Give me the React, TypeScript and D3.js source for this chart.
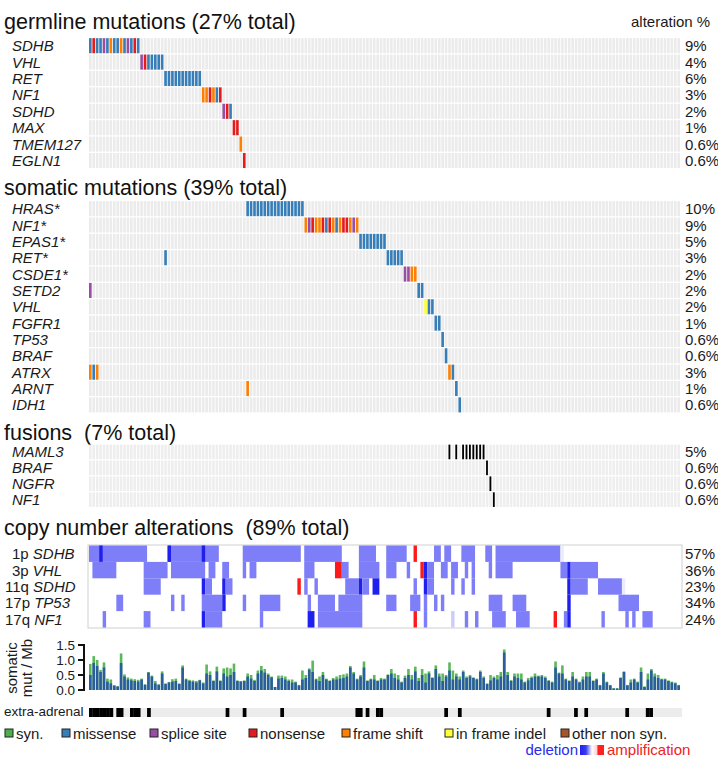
import React from "react";
import * as d3 from "d3";

const FONT = "'Liberation Sans', Arial, Helvetica, sans-serif";

// one letter per mutation type
const typeColors: Record<string, string> = {
  y: "#4daf4a", // syn.
  m: "#377eb8", // missense
  s: "#984ea3", // splice site
  n: "#e41a1c", // nonsense
  f: "#ff7f00", // frame shift
  i: "#ffff33", // in frame indel
  o: "#a65628", // other non syn.
};
const legendTypes = ["y", "m", "s", "n", "f", "i", "o"];
const legendLabels = ["syn.", "missense", "splice site", "nonsense", "frame shift", "in frame indel", "other non syn."];

// germline: [first sample, types of consecutive samples]
const germlineGenes = ["SDHB", "VHL", "RET", "NF1", "SDHD", "MAX", "TMEM127", "EGLN1"];
const germlinePct = ["9%", "4%", "6%", "3%", "2%", "1%", "0.6%", "0.6%"];
const germlineRuns: [number, string][][] = [
  [[0, "mnmmsmfmmfmsmnm"]],
  [[15, "snmmmmm"]],
  [[22, "mmmmmmmmmmm"]],
  [[33, "ffnfmn"]],
  [[39, "snm"]],
  [[42, "nn"]],
  [[44, "f"]],
  [[45, "n"]],
];

const somaticGenes = ["HRAS*", "NF1*", "EPAS1*", "RET*", "CSDE1*", "SETD2", "VHL", "FGFR1", "TP53", "BRAF", "ATRX", "ARNT", "IDH1"];
const somaticPct = ["10%", "9%", "5%", "3%", "2%", "2%", "2%", "1%", "0.6%", "0.6%", "3%", "1%", "0.6%"];
const somaticRuns: [number, string][][] = [
  [[46, "mmmmmmmmmmmmmmmmm"]],
  [[63, "fsnffnmnfmfnnfsf"]],
  [[79, "mmmmmmmm"]],
  [[22, "m"], [87, "mmmmm"]],
  [[92, "ssff"]],
  [[0, "s"], [96, "mm"]],
  [[98, "imm"]],
  [[101, "mm"]],
  [[103, "m"]],
  [[104, "m"]],
  [[0, "fmf"], [105, "fm"]],
  [[46, "f"], [107, "m"]],
  [[108, "m"]],
];

const fusionGenes = ["MAML3", "BRAF", "NGFR", "NF1"];
const fusionPct = ["5%", "0.6%", "0.6%", "0.6%"];
const fusionSamples = [[105, 107, 109, 110, 111, 112, 113, 114, 115], [116], [117], [118]];

// copy number: [first, last, level]  1 = deletion, 2 = deep deletion, -1 = amplification
const cnaArms = ["1p", "3p", "11q", "17p", "17q"];
const cnaGenes = ["SDHB", "VHL", "SDHD", "TP53", "NF1"];
const cnaPct = ["57%", "36%", "23%", "34%", "24%"];
const cna1p = [[0, 16, 1], [3, 3, 2], [23, 37, 1], [23, 23, 2], [33, 33, 2], [45, 61, 1], [63, 73, 1], [79, 83, 1], [87, 92, 1], [95, 95, -1], [101, 102, 1], [104, 105, 1], [109, 112, 1], [116, 117, 1], [119, 137, 1], [138, 138, 0.15]];
const cna3p = [[1, 7, 1], [16, 22, 1], [24, 33, 1], [35, 36, 1], [39, 40, 1], [45, 45, 1], [47, 48, 1], [63, 65, 1], [72, 73, -1], [74, 75, 1], [79, 84, 1], [87, 89, 1], [93, 93, 1], [97, 97, -1], [98, 98, 2], [99, 100, 1], [103, 104, 1], [106, 107, 1], [110, 110, 1], [112, 112, 1], [117, 117, 1], [119, 123, 1], [138, 139, 1], [140, 140, 2], [141, 148, 1]];
const cna11q = [[16, 20, 1], [33, 33, 2], [34, 35, 1], [39, 39, 2], [40, 41, 1], [61, 61, -1], [63, 63, 1], [66, 66, 1], [75, 78, 1], [79, 79, 2], [80, 81, 1], [83, 84, 2], [95, 95, 1], [98, 98, 2], [99, 100, 1], [106, 106, 1], [109, 109, 1], [112, 112, 1], [140, 140, 2], [141, 145, 1], [149, 155, 1], [156, 156, 0.15]];
const cna17p = [[8, 9, 1], [24, 24, 1], [27, 27, 1], [33, 38, 1], [39, 39, 2], [45, 45, 1], [50, 55, 1], [64, 64, 1], [67, 71, 1], [73, 79, 1], [87, 89, 1], [94, 96, 1], [98, 98, 1], [101, 101, 1], [103, 103, 1], [117, 120, 1], [124, 127, 1], [140, 140, 2], [155, 160, 1]];
const cna17q = [[4, 4, 1], [16, 17, 1], [33, 33, 2], [34, 38, 1], [50, 50, 1], [64, 65, 2], [67, 79, 1], [95, 95, -1], [98, 98, 1], [106, 106, 0.4], [110, 110, 1], [113, 113, 1], [118, 121, 1], [125, 128, 1], [136, 136, -1], [139, 139, 1], [140, 140, 2], [150, 150, 1], [157, 157, 1], [159, 159, 1], [162, 164, 1]];
const cnaRows = [cna1p, cna3p, cna11q, cna17p, cna17q];

// somatic mutations / Mb per sample
const nonsynRate = [
  0.5, 0.9, 0.8, 0.6, 0.75, 0.28, 0.22, 0.15, 0.12, 0.9, 0.45, 0.35, 0.32, 0.3, 0.28, 0.35, 0.18, 0.58, 0.45, 0.22,
  0.18, 0.55, 0.2, 0.25, 0.28, 0.3, 0.2, 0.75, 0.35, 0.3, 0.28, 0.25, 0.32, 0.22, 0.55, 0.5, 0.3, 0.62, 0.3, 0.55,
  0.45, 0.5, 0.6, 0.3, 0.28, 0.3, 0.45, 0.38, 0.3, 0.55, 0.65, 0.58, 0.5, 0.42, 0.1, 0.38, 0.4, 0.35, 0.3, 0.25,
  0.25, 0.15, 0.35, 0.4, 0.68, 0.6, 0.35, 0.3, 0.5, 0.35, 0.3, 0.35, 0.35, 0.38, 0.4, 0.45, 0.75, 0.55, 0.35, 0.45,
  0.75, 0.3, 0.35, 0.35, 0.3, 0.35, 0.35, 0.5, 0.55, 0.4, 0.35, 0.25, 0.4, 0.5, 0.35, 0.62, 0.3, 0.5, 0.25, 0.55,
  0.4, 0.7, 0.45, 0.3, 0.45, 0.65, 0.35, 0.45, 0.35, 0.6, 0.4, 0.45, 0.4, 0.35, 0.6, 0.4, 0.2, 0.32, 0.4, 0.35,
  0.45, 1.25, 0.5, 0.3, 0.45, 0.4, 0.35, 0.25, 0.32, 0.4, 0.45, 0.45, 0.45, 0.4, 0.3, 0.25, 0.75, 0.55, 0.55, 0.35,
  0.3, 0.45, 0.35, 0.25, 0.35, 0.45, 0.45, 0.3, 0.35, 0.15, 0.55, 0.25, 0.15, 0.05, 0.05, 0.4, 0.6, 0.15, 0.25, 0.35,
  0.25, 0.6, 0.1, 0.35, 0.65, 0.45, 0.4, 0.35, 0.35, 0.3, 0.25, 0.22, 0.15,
];
const totalRate = [
  0.87, 1.13, 1.0, 0.67, 0.92, 0.38, 0.35, 0.15, 0.12, 1.22, 0.52, 0.42, 0.38, 0.36, 0.34, 0.38, 0.18, 0.6, 0.48, 0.3,
  0.18, 0.62, 0.22, 0.27, 0.36, 0.38, 0.22, 0.82, 0.38, 0.34, 0.32, 0.3, 0.34, 0.25, 0.85, 0.62, 0.32, 0.78, 0.32, 0.72,
  0.75, 0.72, 0.88, 0.32, 0.3, 0.32, 0.55, 0.5, 0.34, 0.65, 0.8, 0.7, 0.55, 0.45, 0.1, 0.48, 0.48, 0.45, 0.35, 0.35,
  0.28, 0.17, 0.65, 0.5, 0.72, 0.98, 0.38, 0.45, 0.6, 0.38, 0.32, 0.4, 0.45, 0.5, 0.52, 0.55, 0.8, 0.6, 0.38, 0.5,
  0.95, 0.32, 0.38, 0.5, 0.32, 0.4, 0.38, 0.52, 0.7, 0.55, 0.5, 0.28, 0.48, 0.7, 0.5, 0.78, 0.4, 0.7, 0.55, 0.62,
  0.42, 0.82, 0.55, 0.55, 0.5, 0.92, 0.65, 0.55, 0.45, 0.65, 0.45, 0.5, 0.42, 0.38, 0.65, 0.45, 0.22, 0.5, 0.45, 0.5,
  0.6, 1.35, 0.6, 0.33, 0.55, 0.55, 0.55, 0.28, 0.4, 0.45, 0.55, 0.48, 0.5, 0.45, 0.33, 0.28, 0.95, 0.58, 0.82, 0.38,
  0.32, 0.6, 0.38, 0.28, 0.45, 0.6, 0.6, 0.32, 0.38, 0.17, 0.6, 0.28, 0.17, 0.06, 0.06, 0.42, 0.62, 0.17, 0.35, 0.38,
  0.28, 0.75, 0.12, 0.55, 0.7, 0.55, 0.5, 0.38, 0.38, 0.32, 0.28, 0.25, 0.17,
];
const rateTicks = [0, 0.5, 1.0, 1.5];

const extraAdrenal = [0, 1, 2, 3, 4, 5, 6, 8, 9, 12, 13, 14, 17, 40, 45, 56, 78, 79, 81, 84, 85, 104, 108, 134, 142, 145, 157, 163, 164];

const nSamples = totalRate.length;
const sampleIdx = d3.range(nSamples);
const xCell = d3.scaleBand<number>().domain(sampleIdx).range([89, 680]).paddingInner(0.24);
const xFull = d3.scaleBand<number>().domain(sampleIdx).range([89, 680]).paddingInner(0);

function rowScale(genes: string[], top: number, pitch: number) {
  return d3.scaleBand<string>().domain(genes).range([top, top + genes.length * pitch]).paddingInner(0.08).paddingOuter(0.04);
}

function GeneLabels({ genes, pct, y }: { genes: string[]; pct: string[]; y: d3.ScaleBand<string> }) {
  return (
    <g fontFamily={FONT} fontSize={15} fill="#1a1a1a">
      {genes.map((g, i) => (
        <g key={g + i}>
          <text x={12} y={(y(g) as number) + y.bandwidth() / 2 + 5.5} fontStyle="italic">{g}</text>
          <text x={685} y={(y(g) as number) + y.bandwidth() / 2 + 5.5}>{pct[i]}</text>
        </g>
      ))}
    </g>
  );
}

function MutSection({ genes, pct, runs, top, pitch }: { genes: string[]; pct: string[]; runs: [number, string][][]; top: number; pitch: number }) {
  const y = rowScale(genes, top, pitch);
  return (
    <g>
      {genes.map((g) => (
        <g key={g}>
          {sampleIdx.map((s) => (
            <rect key={s} x={xCell(s)} y={y(g)} width={xCell.bandwidth()} height={y.bandwidth()} fill="#ebebeb" />
          ))}
        </g>
      ))}
      {runs.map((rowRuns, r) =>
        rowRuns.map(([start, types]) =>
          types.split("").map((t, k) => (
            <rect key={`${r}-${start}-${k}`} x={xCell(start + k)} y={y(genes[r])} width={xCell.bandwidth()} height={y.bandwidth()} fill={typeColors[t]} />
          ))
        )
      )}
      <GeneLabels genes={genes} pct={pct} y={y} />
    </g>
  );
}

function cnaColor(level: number) {
  if (level === 2) return "#2020ee";
  if (level === 1) return "#7e7ef8";
  if (level === -1) return "#ff1a1a";
  if (level < 0) return "#ffd8d8";
  return d3.interpolateRgb("#ffffff", "#7e7ef8")(level);
}

export default function App() {
  const yFus = rowScale(fusionGenes, 444, 15.9);
  const yCna = d3.scaleBand<string>().domain(cnaGenes).range([545.5, 627.5]);
  const yRate = d3.scaleLinear().domain([0, 1.5]).range([690, 645]);
  const pre = { whiteSpace: "pre" as const };

  return (
    <svg width={718} height={760} style={{ position: "absolute", left: 0, top: 0, background: "#fff" }}>
      <defs>
        <linearGradient id="cnaGrad" x1="0" x2="1" y1="0" y2="0">
          <stop offset="0" stopColor="#2020ee" />
          <stop offset="0.25" stopColor="#3a3af0" />
          <stop offset="0.5" stopColor="#ffffff" />
          <stop offset="0.7" stopColor="#ffd0d0" />
          <stop offset="0.75" stopColor="#ff2020" />
          <stop offset="1" stopColor="#ff2020" />
        </linearGradient>
      </defs>

      <g fontFamily={FONT} fontSize={21.5} fill="#111">
        <text x={4} y={29} xmlSpace="preserve" style={pre}>germline mutations (27% total)</text>
        <text x={4} y={195} xmlSpace="preserve" style={pre}>somatic mutations (39% total)</text>
        <text x={4} y={440} xmlSpace="preserve" style={pre}>{"fusions  (7% total)"}</text>
        <text x={4} y={535} xmlSpace="preserve" style={pre}>{"copy number alterations  (89% total)"}</text>
      </g>
      <text x={631} y={27} fontFamily={FONT} fontSize={15} fill="#1a1a1a">alteration %</text>

      <MutSection genes={germlineGenes} pct={germlinePct} runs={germlineRuns} top={37.5} pitch={16.4} />
      <MutSection genes={somaticGenes} pct={somaticPct} runs={somaticRuns} top={200.5} pitch={16.35} />

      {/* fusions */}
      <g>
        {fusionGenes.map((g) => (
          <g key={g}>
            {sampleIdx.map((s) => (
              <rect key={s} x={xCell(s)} y={yFus(g)} width={xCell.bandwidth()} height={yFus.bandwidth()} fill="#eeeeee" />
            ))}
          </g>
        ))}
        {fusionSamples.map((list, r) =>
          list.map((s) => (
            <rect key={`${r}-${s}`} x={(xFull(s) as number) + xFull.bandwidth() / 2 - 0.9} y={yFus(fusionGenes[r])} width={1.8} height={yFus.bandwidth()} fill="#000" />
          ))
        )}
        <GeneLabels genes={fusionGenes} pct={fusionPct} y={yFus} />
      </g>

      {/* copy number */}
      <g>
        <rect x={88} y={545} width={594} height={83} fill="#fff" stroke="#cfcfcf" strokeWidth={1} />
        {cnaRows.map((runs, r) =>
          runs.map(([a, b, lv], k) => (
            <rect key={`${r}-${k}`} x={xFull(a)} y={yCna(cnaGenes[r])} width={(xFull(b) as number) - (xFull(a) as number) + xFull.bandwidth()} height={yCna.bandwidth()} fill={cnaColor(lv)} />
          ))
        )}
        <g fontFamily={FONT} fontSize={15} fill="#1a1a1a">
          {cnaGenes.map((g, i) => (
            <g key={g}>
              <text x={cnaArms[i].length > 2 ? 5 : 12} y={(yCna(g) as number) + yCna.bandwidth() / 2 + 5.5}>
                {cnaArms[i] + " "}
                <tspan fontStyle="italic">{g}</tspan>
              </text>
              <text x={685} y={(yCna(g) as number) + yCna.bandwidth() / 2 + 5.5}>{cnaPct[i]}</text>
            </g>
          ))}
        </g>
      </g>

      {/* mutation burden */}
      <g>
        {sampleIdx.map((s) => (
          <g key={s}>
            <rect x={xCell(s)} y={yRate(totalRate[s])} width={xCell.bandwidth()} height={690 - yRate(totalRate[s])} fill="#5cb85c" />
            <rect x={xCell(s)} y={yRate(nonsynRate[s])} width={xCell.bandwidth()} height={690 - yRate(nonsynRate[s])} fill="#2b5d9e" />
          </g>
        ))}
        <path d={`M78,${yRate(1.5)}H84V${yRate(0)}H78`} fill="none" stroke="#111" strokeWidth={2} />
        {rateTicks.map((t) => (
          <g key={t}>
            <line x1={78} x2={84} y1={yRate(t)} y2={yRate(t)} stroke="#111" strokeWidth={2} />
            <text x={75} y={yRate(t) + 4.5} textAnchor="end" fontFamily={FONT} fontSize={13.5} fill="#1a1a1a">{d3.format(".1f")(t)}</text>
          </g>
        ))}
        <g fontFamily={FONT} fontSize={15} fill="#1a1a1a" textAnchor="middle">
          <text transform="translate(17,668) rotate(-90)">somatic</text>
          <text transform="translate(32,668) rotate(-90)">mut / Mb</text>
        </g>
      </g>

      {/* extra-adrenal */}
      <g>
        <text x={4} y={716} fontFamily={FONT} fontSize={13.5} fill="#1a1a1a">extra-adrenal</text>
        <rect x={89} y={708} width={593} height={9} fill="#ececec" />
        {extraAdrenal.map((s) => (
          <rect key={s} x={xFull(s)} y={708} width={xFull.bandwidth() + 0.3} height={9} fill="#000" />
        ))}
      </g>

      {/* legend */}
      <g fontFamily={FONT} fontSize={15} fill="#1a1a1a">
        {legendTypes.map((t, i) => {
          const lx = [5, 62, 150, 249, 342, 445, 561][i];
          return (
            <g key={t}>
              <rect x={lx} y={729} width={8} height={8} fill={typeColors[t]} stroke="#222" strokeWidth={1} />
              <text x={lx + 11} y={739}>{legendLabels[i]}</text>
            </g>
          );
        })}
        <text x={578} y={755} textAnchor="end" fill="#2a2aee">deletion</text>
        <rect x={580} y={745} width={24} height={10} fill="url(#cnaGrad)" />
        <text x={607} y={755} fill="#ee2222">amplification</text>
      </g>
    </svg>
  );
}
